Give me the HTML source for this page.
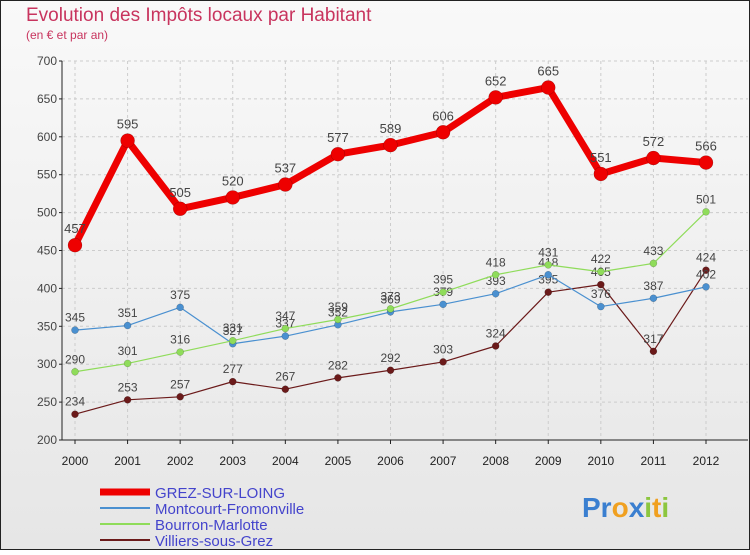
<!DOCTYPE html>
<html><head><meta charset="utf-8"><style>
body{margin:0;width:750px;height:550px;overflow:hidden;font-family:"Liberation Sans",sans-serif;}
svg text{font-family:"Liberation Sans",sans-serif;}
</style></head><body>
<svg id="c" width="750" height="550">
<defs><linearGradient id="bg" x1="0" y1="0" x2="0" y2="1"><stop offset="0" stop-color="#f9f9f9"/><stop offset="1" stop-color="#e6e6e6"/></linearGradient></defs>
<rect x="0.5" y="0.5" width="749" height="549" fill="url(#bg)" stroke="#222"/>
<text x="26" y="21" font-size="19" fill="#c8345e">Evolution des Impôts locaux par Habitant</text>
<text x="26" y="39" font-size="12" fill="#c8345e">(en € et par an)</text>
<g id="grid"></g><g id="series"></g>
<g>
<line x1="100" y1="492" x2="150" y2="492" stroke="#e00" stroke-width="7"/>
<text x="155" y="498" font-size="15" fill="#44c">GREZ-SUR-LOING</text>
<line x1="100" y1="508" x2="150" y2="508" stroke="#4a90d0" stroke-width="2"/>
<text x="155" y="514" font-size="15" fill="#44c">Montcourt-Fromonville</text>
<line x1="100" y1="524" x2="150" y2="524" stroke="#8fdc5a" stroke-width="2"/>
<text x="155" y="530" font-size="15" fill="#44c">Bourron-Marlotte</text>
<line x1="100" y1="540" x2="150" y2="540" stroke="#6b1a1a" stroke-width="2"/>
<text x="155" y="546" font-size="15" fill="#44c">Villiers-sous-Grez</text>
</g>
<text x="582" y="517" font-size="28" font-weight="bold"><tspan fill="#3a7fd0">Pr</tspan><tspan fill="#f0a020">o</tspan><tspan fill="#3a7fd0">x</tspan><tspan fill="#8cc63f">i</tspan><tspan fill="#f0a020">t</tspan><tspan fill="#8cc63f">i</tspan></text>
</svg>
<script>
const years=["2000","2001","2002","2003","2004","2005","2006","2007","2008","2009","2010","2011","2012"];
const yTicks=[200,250,300,350,400,450,500,550,600,650,700];
const grez=[457,595,505,520,537,577,589,606,652,665,551,572,566];
const montcourt=[345,351,375,327,337,352,369,379,393,418,376,387,402];
const bourron=[290,301,316,331,347,359,373,395,418,431,422,433,501];
const villiers=[234,253,257,277,267,282,292,303,324,395,405,317,424];
const NS="http://www.w3.org/2000/svg";
const X=i=>75+i*(706-75)/12;
const Y=v=>440-(v-200)*(440-61)/500;
function mk(t,a,p){const e=document.createElementNS(NS,t);for(const k in a)e.setAttribute(k,a[k]);p.appendChild(e);return e;}
const g=document.getElementById('grid');
yTicks.forEach(v=>{
 const l=mk('line',{x1:62,x2:748,y1:Y(v),y2:Y(v),stroke:'#ccc','stroke-dasharray':'3,3'},g);
 
 const t=mk('text',{x:57,y:Y(v)+4,'font-size':12,fill:'#444','text-anchor':'end'},g);t.textContent=v;
 
 mk('line',{x1:59,x2:62,y1:Y(v),y2:Y(v),stroke:'#222'},g);
});
years.forEach((y,i)=>{
 const l=mk('line',{x1:X(i),x2:X(i),y1:61,y2:440,stroke:'#ccc','stroke-dasharray':'3,3'},g);
 
 mk('line',{x1:X(i),x2:X(i),y1:440,y2:444,stroke:'#222'},g);
 const t=mk('text',{x:X(i),y:465,'font-size':12,fill:'#222','text-anchor':'middle'},g);t.textContent=y;
 
});
mk('line',{x1:62,x2:62,y1:61,y2:440,stroke:'#222'},g);
mk('line',{x1:62,x2:748,y1:440,y2:440,stroke:'#222'},g);
const s=document.getElementById('series');
function draw(data,name,color,w,r,fs){
 const gg=mk('g',{},s);
 mk('polyline',{points:data.map((v,i)=>X(i)+','+Y(v)).join(' '),fill:'none',stroke:color,'stroke-width':w,'stroke-linejoin':'round'},gg);
 data.forEach((v,i)=>{
  const c=mk('circle',{cx:X(i),cy:Y(v),r:r,fill:color,stroke:'rgba(0,0,0,0.3)','stroke-width':0.5},gg);
  
  const t=mk('text',{x:X(i),y:Y(v)-r-5,'font-size':fs,fill:'#444','text-anchor':'middle'},gg);t.textContent=v;
  
 });
}
draw(villiers,'villiers','#6b1a1a',1.2,3.5,12);
draw(montcourt,'montcourt','#4a90d0',1.2,3.5,12);
draw(bourron,'bourron','#8fdc5a',1.2,3.5,12);
draw(grez,'grez','#e00',7,7,13);
</script>
</body></html>
